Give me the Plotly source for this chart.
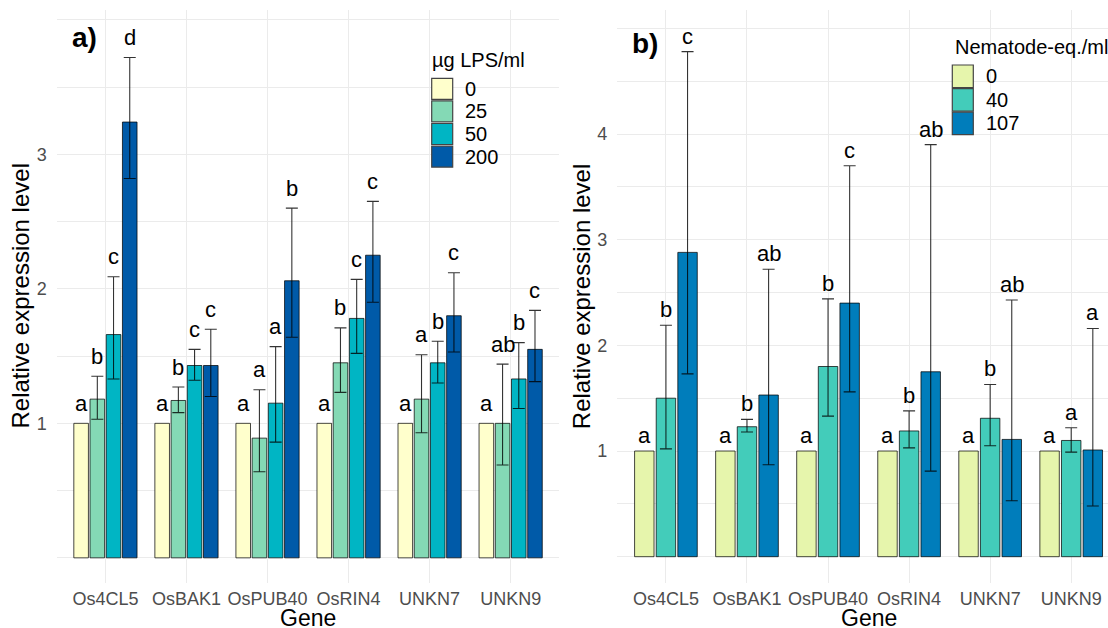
import plotly.graph_objects as go

# ---------------- data ----------------
genes = ["Os4CL5", "OsBAK1", "OsPUB40", "OsRIN4", "UNKN7", "UNKN9"]

# panel a) LPS treatment (µg LPS/ml)
lps_levels = ["0", "25", "50", "200"]
lps_mean_0 = [1.00, 1.00, 1.00, 1.00, 1.00, 1.00]
lps_mean_25 = [1.18, 1.17, 0.89, 1.45, 1.18, 1.00]
lps_mean_50 = [1.66, 1.43, 1.15, 1.78, 1.45, 1.33]
lps_mean_200 = [3.24, 1.43, 2.06, 2.25, 1.80, 1.55]
lps_upper_25 = [1.35, 1.27, 1.25, 1.71, 1.51, 1.44]
lps_lower_25 = [1.03, 1.08, 0.64, 1.23, 0.93, 0.69]
lps_upper_50 = [2.09, 1.55, 1.57, 2.07, 1.61, 1.60]
lps_lower_50 = [1.33, 1.32, 0.86, 1.52, 1.30, 1.11]
lps_upper_200 = [3.72, 1.70, 2.60, 2.65, 2.12, 1.84]
lps_lower_200 = [2.82, 1.20, 1.64, 1.90, 1.53, 1.31]
lps_letters_0 = ["a", "a", "a", "a", "a", "a"]
lps_letters_25 = ["b", "b", "a", "b", "a", "ab"]
lps_letters_50 = ["c", "c", "a", "c", "b", "b"]
lps_letters_200 = ["d", "c", "b", "c", "c", "c"]

# panel b) nematode extract (Nematode-eq./ml)
nem_levels = ["0", "40", "107"]
nem_mean_0 = [1.00, 1.00, 1.00, 1.00, 1.00, 1.00]
nem_mean_40 = [1.50, 1.23, 1.80, 1.19, 1.31, 1.10]
nem_mean_107 = [2.88, 1.53, 2.40, 1.75, 1.11, 1.01]
nem_upper_40 = [2.19, 1.30, 2.44, 1.38, 1.63, 1.22]
nem_lower_40 = [1.02, 1.18, 1.33, 1.03, 1.05, 0.99]
nem_upper_107 = [4.78, 2.72, 3.70, 3.90, 2.43, 2.16]
nem_lower_107 = [1.73, 0.87, 1.56, 0.81, 0.53, 0.48]
nem_letters_0 = ["a", "a", "a", "a", "a", "a"]
nem_letters_40 = ["b", "b", "b", "b", "b", "a"]
nem_letters_107 = ["c", "ab", "c", "ab", "ab", "a"]

# ---------------- styling ----------------
FONT = "Liberation Sans, Arial, sans-serif"
OX, OY = 0, 0          # page margin is removed by the post script below
W, H = 1108 - OX, 628 - OY


def px(xw):
    """window x pixel -> paper fraction"""
    return (xw - OX) / W


def py(yw):
    """window y pixel (from top) -> paper fraction"""
    return 1 - (yw - OY) / H


lps_colors = ["#FFFFCC", "#84D9B5", "#00B5C4", "#005AA8"]
nem_colors = ["#E6F5AC", "#43CCBA", "#007DBB"]
GRID = "#EBEBEB"
OUTLINE = "rgba(0,0,0,0.72)"
ERRC = "rgba(0,0,0,0.8)"

panels = [
    dict(levels=lps_levels, colors=lps_colors,
         means=[lps_mean_0, lps_mean_25, lps_mean_50, lps_mean_200],
         uppers=[None, lps_upper_25, lps_upper_50, lps_upper_200],
         lowers=[None, lps_lower_25, lps_lower_50, lps_lower_200],
         letters=[lps_letters_0, lps_letters_25, lps_letters_50, lps_letters_200],
         xa="x", ya="y", label_shift=5.5),
    dict(levels=nem_levels, colors=nem_colors,
         means=[nem_mean_0, nem_mean_40, nem_mean_107],
         uppers=[None, nem_upper_40, nem_upper_107],
         lowers=[None, nem_lower_40, nem_lower_107],
         letters=[nem_letters_0, nem_letters_40, nem_letters_107],
         xa="x2", ya="y2", label_shift=1.0),
]

xpos = list(range(1, len(genes) + 1))
fig = go.Figure()
annotations = []
GROUP_W = 0.8

for p in panels:
    n = len(p["levels"])
    for j, lvl in enumerate(p["levels"]):
        m = p["means"][j]
        up, lo = p["uppers"][j], p["lowers"][j]
        err = None
        if up is not None:
            err = dict(type="data", symmetric=False,
                       array=[u - v for u, v in zip(up, m)],
                       arrayminus=[v - l for v, l in zip(m, lo)],
                       color=ERRC, thickness=1.1, width=6)
        fig.add_trace(go.Bar(
            x=xpos, y=m, name=lvl, showlegend=False,
            marker=dict(color=p["colors"][j], line=dict(color=OUTLINE, width=1)),
            error_y=err, xaxis=p["xa"], yaxis=p["ya"],
        ))
        off = (j - (n - 1) / 2) * GROUP_W / n
        for i in range(len(genes)):
            ytop = up[i] if up is not None else m[i]
            annotations.append(dict(
                x=xpos[i] + off, y=ytop, xref=p["xa"], yref=p["ya"],
                text=p["letters"][j][i], showarrow=False,
                xanchor="center", yanchor="bottom", yshift=p["label_shift"],
                font=dict(family=FONT, size=22, color="black")))

# ---------------- axes ----------------
top_px, bot_px = 10, 583
ydom = [py(bot_px), py(top_px)]
xl = [px(56.8), px(559.3)]
xr = [px(617.3), 1.0]

tickfont = dict(family=FONT, size=18, color="#4D4D4D")
common_x = dict(tickmode="array", tickvals=xpos, ticktext=genes, showgrid=True,
                gridcolor=GRID, gridwidth=1, zeroline=False, showline=False,
                ticks="", tickfont=tickfont, ticklabelstandoff=3, fixedrange=True)
common_y = dict(showgrid=True, gridcolor=GRID, gridwidth=1, zeroline=False,
                showline=False, ticks="", tickfont=tickfont, ticklabelstandoff=9,
                fixedrange=True)

fig.update_layout(
    xaxis=dict(domain=xl, range=[0.4, 6.6], anchor="y", **common_x),
    yaxis=dict(domain=ydom, range=[-0.187, 4.073], anchor="x",
               tickmode="array", tickvals=[0, 1, 2, 3, 4],
               ticktext=["", "1", "2", "3", ""],
               minor=dict(tick0=0, dtick=0.5, showgrid=True, gridcolor=GRID, gridwidth=1),
               **common_y),
    xaxis2=dict(domain=xr, range=[0.4, 6.454], anchor="y2", **common_x),
    yaxis2=dict(domain=ydom, range=[-0.249, 5.174], anchor="x2",
                tickmode="array", tickvals=[0, 1, 2, 3, 4, 5],
                ticktext=["", "1", "2", "3", "4", ""],
                minor=dict(tick0=0, dtick=0.5, showgrid=True, gridcolor=GRID, gridwidth=1),
                **common_y),
    barmode="group", bargap=0.2, bargroupgap=0.1,
    width=W, height=H, autosize=False,
    margin=dict(l=0, r=0, t=0, b=0),
    paper_bgcolor="white", plot_bgcolor="white",
    font=dict(family=FONT, color="black"),
    showlegend=False,
)

# ---------------- axis titles & panel labels ----------------
title_font = dict(family=FONT, size=24, color="black")
ymid = (ydom[0] + ydom[1]) / 2
for xa, xpix in (("x", 20), ("x2", 581.7)):
    annotations.append(dict(x=px(xpix), y=ymid, xref="paper", yref="paper",
                            text="Relative expression level", textangle=-90,
                            showarrow=False, xanchor="center", yanchor="middle",
                            font=title_font))
    annotations.append(dict(x=3.5, y=py(618), xref=xa, yref="paper",
                            text="Gene", showarrow=False, xanchor="center",
                            yanchor="middle", borderpad=0,
                            font=dict(family=FONT, size=23, color="black")))

for txt, cx, cy in (("a)", 84, 37), ("b)", 645, 43.5)):
    annotations.append(dict(x=px(cx), y=py(cy), xref="paper", yref="paper",
                            text="<b>%s</b>" % txt, showarrow=False,
                            xanchor="center", yanchor="middle",
                            font=dict(family=FONT, size=28, color="black")))

# ---------------- legends (drawn inside each panel) ----------------
shapes = []
legends = [
    dict(title="µg LPS/ml", levels=lps_levels, colors=lps_colors,
         box=(423, 39, 543, 177), title_xy=(430, 60), key_x=431.7, key_top=78.3,
         pitch=22.6, key_w=21, key_h=21, label_x=463.3),
    dict(title="Nematode-eq./ml", levels=nem_levels, colors=nem_colors,
         box=(945, 29, 1108, 141), title_xy=(952.7, 46.7), key_x=952.3, key_top=65,
         pitch=23.6, key_w=21, key_h=22.5, label_x=984.3),
]
for lg in legends:
    bx0, by0, bx1, by1 = lg["box"]
    shapes.append(dict(type="rect", xref="paper", yref="paper", layer="between",
                       x0=px(bx0), x1=px(bx1), y0=py(by1), y1=py(by0),
                       fillcolor="white", line=dict(width=0)))
    annotations.append(dict(x=px(lg["title_xy"][0]), y=py(lg["title_xy"][1]),
                            xref="paper", yref="paper", text=lg["title"],
                            showarrow=False, xanchor="left", yanchor="middle",
                            font=dict(family=FONT, size=20, color="black")))
    for k, (lvl, col) in enumerate(zip(lg["levels"], lg["colors"])):
        t = lg["key_top"] + k * lg["pitch"]
        shapes.append(dict(type="rect", xref="paper", yref="paper", layer="above",
                           x0=px(lg["key_x"]), x1=px(lg["key_x"] + lg["key_w"]),
                           y0=py(t + lg["key_h"]), y1=py(t),
                           fillcolor=col, line=dict(color="#444444", width=1.2)))
        annotations.append(dict(x=px(lg["label_x"]), y=py(t + lg["key_h"] / 2),
                                xref="paper", yref="paper", text=lvl,
                                showarrow=False, xanchor="left", yanchor="middle",
                                font=dict(family=FONT, size=20, color="black")))

fig.update_layout(annotations=annotations, shapes=shapes)

# remove the default page margin so the 1108x628 figure fills the window exactly
page_fix = ("document.documentElement.style.margin='0';"
            "document.body.style.margin='0';"
            "document.body.style.overflow='hidden';"
            "document.documentElement.style.overflow='hidden';")
fig.write_html("out.html", config={"displayModeBar": False}, post_script=page_fix)
